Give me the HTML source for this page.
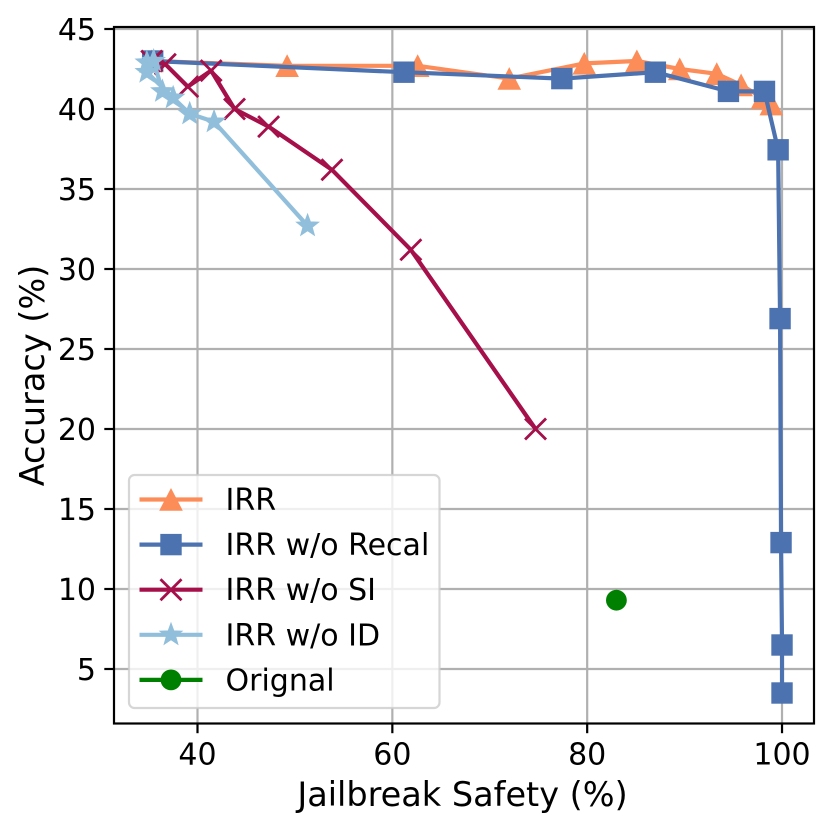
<!DOCTYPE html>
<html>
<head>
<meta charset="utf-8">
<style>
html,body{margin:0;padding:0;background:#fff;}
svg{display:block;}
text{font-family:"DejaVu Sans","Liberation Sans",sans-serif;fill:#000;}
</style>
</head>
<body>
<svg id="chart" xmlns="http://www.w3.org/2000/svg" width="831" height="830" viewBox="0 0 831 830"></svg>
<script>
const xTicks = [40, 60, 80, 100];
const yTicks = [5, 10, 15, 20, 25, 30, 35, 40, 45];
const irrX = [35.3, 49.2, 62.6, 72.0, 79.7, 85.1, 89.5, 93.3, 95.8, 98.0, 98.9];
const irrY = [43.0, 42.7, 42.7, 41.9, 42.85, 43.0, 42.5, 42.2, 41.5, 40.7, 40.3];
const recalX = [35.4, 61.2, 77.4, 87.0, 94.5, 98.2, 99.6, 99.8, 99.9, 100.0, 100.0];
const recalY = [43.0, 42.3, 41.9, 42.3, 41.1, 41.1, 37.45, 26.9, 12.9, 6.5, 3.5];
const siX = [35.3, 36.7, 39.0, 41.4, 43.8, 47.3, 53.8, 61.9, 74.7];
const siY = [43.0, 42.8, 41.4, 42.4, 40.0, 38.9, 36.2, 31.2, 20.0];
const idX = [51.3, 41.7, 39.2, 37.5, 34.8, 34.8, 35.5, 36.4];
const idY = [32.7, 39.2, 39.7, 40.7, 42.3, 42.9, 43.0, 41.1];
const origX = [83.0];
const origY = [9.3];
const legendLabels = ['IRR', 'IRR w/o Recal', 'IRR w/o SI', 'IRR w/o ID', 'Orignal'];

const NS = 'http://www.w3.org/2000/svg';
const svg = document.getElementById('chart');
const plot = {left: 114, right: 814, top: 27.5, bottom: 723.5};
function xScale(v) { return 197.5 + (v - 40) * 9.742; }
function yScale(v) { return 29 + (45 - v) * 16; }

function mk(tag, attrs, parent) {
  const el = document.createElementNS(NS, tag);
  for (const k in attrs) el.setAttribute(k, attrs[k]);
  (parent || svg).appendChild(el);
  return el;
}

function drawMarker(kind, cx, cy, color, parent) {
  let m;
  if (kind === 'triangle') {
    m = mk('polygon', {points: (cx) + ',' + (cy - 11.5) + ' ' + (cx + 11.8) + ',' + (cy + 11.2) + ' ' + (cx - 11.8) + ',' + (cy + 11.2), fill: color}, parent);
  } else if (kind === 'square') {
    m = mk('rect', {x: cx - 10.7, y: cy - 10.7, width: 21.4, height: 21.4, fill: color}, parent);
  } else if (kind === 'cross') {
    m = mk('path', {d: 'M' + (cx - 10.5) + ' ' + (cy - 10.5) + 'L' + (cx + 10.5) + ' ' + (cy + 10.5) + 'M' + (cx - 10.5) + ' ' + (cy + 10.5) + 'L' + (cx + 10.5) + ' ' + (cy - 10.5), stroke: color, 'stroke-width': 2.8, fill: 'none'}, parent);
  } else if (kind === 'star') {
    const pts = [];
    for (let i = 0; i < 10; i++) {
      const r = i % 2 === 0 ? 11 : 4.6;
      const a = -Math.PI / 2 + i * Math.PI / 5;
      pts.push((cx + r * Math.cos(a)).toFixed(2) + ',' + (cy + r * Math.sin(a)).toFixed(2));
    }
    m = mk('polygon', {points: pts.join(' '), fill: color, stroke: color, 'stroke-width': 1.4, 'stroke-linejoin': 'miter'}, parent);
  } else {
    m = mk('circle', {cx: cx, cy: cy, r: 10.4, fill: color}, parent);
  }
  
  
  return m;
}

/* grid */
const gridGroup = mk('g', {});


xTicks.forEach(function (t) {
  const l = mk('line', {x1: xScale(t), x2: xScale(t), y1: plot.top, y2: plot.bottom, stroke: '#b0b0b0', 'stroke-width': 2.2}, gridGroup);
  
  
});
yTicks.forEach(function (t) {
  const l = mk('line', {x1: plot.left, x2: plot.right, y1: yScale(t), y2: yScale(t), stroke: '#b0b0b0', 'stroke-width': 2.2}, gridGroup);
  
  
});

/* series */
function drawSeries(name, xs, ys, color, kind) {
  const g = mk('g', {});
  
  
  const pts = xs.map(function (v, i) { return xScale(v) + ',' + yScale(ys[i]); }).join(' ');
  const pl = mk('polyline', {points: pts, fill: 'none', stroke: color, 'stroke-width': 4.2, 'stroke-linejoin': 'round', 'stroke-linecap': 'butt'}, g);
  
  
  xs.forEach(function (v, i) { drawMarker(kind, xScale(v), yScale(ys[i]), color, g); });
}
const colors = ['#fc8d59', '#4c72b0', '#a50f4a', '#91bfdb', '#008000'];
const kinds = ['triangle', 'square', 'cross', 'star', 'circle'];
drawSeries('series-irr', irrX, irrY, colors[0], kinds[0]);
drawSeries('series-irr-wo-recal', recalX, recalY, colors[1], kinds[1]);
drawSeries('series-irr-wo-si', siX, siY, colors[2], kinds[2]);
drawSeries('series-irr-wo-id', idX, idY, colors[3], kinds[3]);
drawSeries('series-original', origX, origY, colors[4], kinds[4]);

/* spines */
const frame = mk('rect', {x: plot.left, y: plot.top - 0.5, width: plot.right - plot.left, height: plot.bottom - plot.top + 0.5, fill: 'none', stroke: '#000', 'stroke-width': 2.2});



/* ticks */
xTicks.forEach(function (t) {
  const l = mk('line', {x1: xScale(t), x2: xScale(t), y1: plot.bottom, y2: plot.bottom + 9.7, stroke: '#000', 'stroke-width': 2.2});
  
  
  const s = mk('text', {x: xScale(t), y: plot.bottom + 41, 'text-anchor': 'middle', 'font-size': 30});
  
  
  s.textContent = String(t);
});
yTicks.forEach(function (t) {
  const l = mk('line', {x1: plot.left - 9.7, x2: plot.left, y1: yScale(t), y2: yScale(t), stroke: '#000', 'stroke-width': 2.2});
  
  
  const s = mk('text', {x: plot.left - 18, y: yScale(t) + 11, 'text-anchor': 'end', 'font-size': 30});
  
  
  s.textContent = String(t);
});

/* axis titles */
const xTitle = mk('text', {x: 462.5, y: 806, 'text-anchor': 'middle', 'font-size': 33.5});


xTitle.textContent = 'Jailbreak Safety (%)';
const yTitle = mk('text', {x: 0, y: 0, 'text-anchor': 'middle', 'font-size': 33.5, transform: 'translate(44 375.5) rotate(-90)'});


yTitle.textContent = 'Accuracy (%)';

/* legend */
const legend = mk('g', {});


const legendBox = mk('rect', {x: 129, y: 475, width: 310.5, height: 233, rx: 5.5, ry: 5.5, fill: 'rgba(255,255,255,0.8)', stroke: 'rgba(204,204,204,0.8)', 'stroke-width': 2.2}, legend);


legendLabels.forEach(function (label, i) {
  const cy = 499.5 + i * 45.1;
  const e = mk('g', {}, legend);
  
  
  const l = mk('line', {x1: 139.5, x2: 202.5, y1: cy, y2: cy, stroke: colors[i], 'stroke-width': 4.2}, e);
  
  
  drawMarker(kinds[i], 171, cy, colors[i], e);
  const s = mk('text', {x: 225.5, y: cy + 10.5, 'font-size': 30}, e);
  
  
  s.textContent = label;
});
</script>
</body>
</html>
